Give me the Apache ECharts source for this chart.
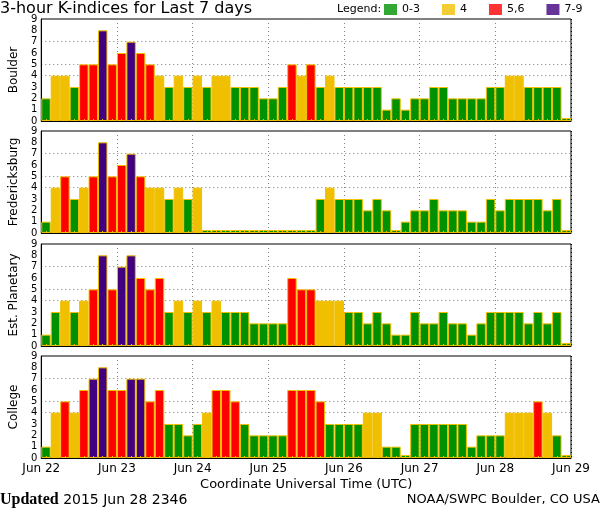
<!DOCTYPE html>
<html><head><meta charset="utf-8">
<script src="https://cdn.jsdelivr.net/npm/echarts@6/dist/echarts.min.js"></script>
<style>html,body{margin:0;padding:0;background:#fff}#c{width:600px;height:510px}</style>
</head><body><div id="c"></div>
<script>
// ---- data ----
const stations = ['Boulder', 'Fredericksburg', 'Est. Planetary', 'College'];
const dayLabels = ['Jun 22', 'Jun 23', 'Jun 24', 'Jun 25', 'Jun 26', 'Jun 27', 'Jun 28', 'Jun 29'];
const hours = ['00', '03', '06', '09', '12', '15', '18', '21'];
const legendNames = ['0-3', '4', '5,6', '7-9'];
const yTicks = [0, 1, 2, 3, 4, 5, 6, 7, 8, 9];

const boulder = [2,4,4,3,5,5,8,5, 6,7,6,5,4,3,4,3, 4,3,4,4,3,3,3,2, 2,3,5,4,5,3,4,3,
                 3,3,3,3,1,2,1,2, 2,3,3,2,2,2,2,3, 3,4,4,3,3,3,3,0];
const fredericksburg = [1,4,5,3,4,5,8,5, 6,7,5,4,4,3,4,3, 4,0,0,0,0,0,0,0, 0,0,0,0,0,3,4,3,
                        3,3,2,3,2,0,1,2, 2,3,2,2,2,1,1,3, 2,3,3,3,3,2,3,0];
const planetary = [1,3,4,3,4,5,8,5, 7,8,6,5,6,3,4,3, 4,3,4,3,3,3,2,2, 2,2,6,5,5,4,4,4,
                   3,3,2,3,2,1,1,3, 2,2,3,2,2,1,2,3, 3,3,3,2,3,2,3,0];
const college = [1,4,5,4,6,7,8,6, 6,7,7,5,6,3,3,2, 3,4,6,6,5,3,2,2, 2,2,6,6,6,5,3,3,
                 3,3,4,4,1,1,0,3, 3,3,3,3,3,1,2,2, 2,4,4,4,5,4,2,0];
const panelData = [boulder, fredericksburg, planetary, college];

// categories: one per 3-hour slot
const categories = [];
dayLabels.slice(0, 7).forEach(d => hours.forEach(h => categories.push(d + ' ' + h)));

// ---- styles ----
const GREEN = '#009100', YELLOW = '#f0c000', RED = '#ff0000', PURPLE = '#400080';
const legendColors = [GREEN, YELLOW, RED, PURPLE];
function kColor(v) { return v <= 3 ? GREEN : v === 4 ? YELLOW : v <= 6 ? RED : PURPLE; }
const GRAY = '#808080', NONE = 'rgba(0,0,0,0)';
const FONT = 'DejaVu Sans';
const tops = [19, 131, 244, 356];

const grid = [], xAxis = [], yAxis = [], series = [];
stations.forEach((name, i) => {
  grid.push({ left: 36, right: 29, top: tops[i], height: 102, show: true,
              borderColor: '#000', borderWidth: 1, backgroundColor: NONE });
  xAxis.push({
    type: 'category', gridIndex: i, data: categories, boundaryGap: true, position: 'bottom', z: 5,
    axisLine: { show: true, lineStyle: { color: '#000', width: 1 } },
    axisTick: { show: true, interval: 0, alignWithLabel: true, inside: true, length: 2,
                lineStyle: { color: YELLOW, width: 1 } },
    axisLabel: { show: false }, splitLine: { show: false }
  });
  xAxis.push({
    type: 'value', gridIndex: i, min: 0, max: 7, interval: 1, position: 'bottom',
    axisLine: { show: false }, axisTick: { show: false },
    axisLabel: { show: i === 3, showMinLabel: true, showMaxLabel: true, margin: 5,
                 formatter: v => dayLabels[v], fontSize: 12, color: '#000', fontFamily: FONT },
    splitLine: { show: true, lineStyle: { color: [NONE, GRAY, GRAY, GRAY, GRAY, GRAY, GRAY, '#000'],
                 type: [1, 3], width: 1 } },
    name: i === 3 ? 'Coordinate Universal Time (UTC)' : '',
    nameLocation: 'middle', nameGap: 20,
    nameTextStyle: { fontSize: 13, color: '#000', fontFamily: FONT }
  });
  yAxis.push({
    type: 'value', gridIndex: i, min: 0, max: 9, interval: 1,
    axisLine: { show: true, lineStyle: { color: '#000', width: 1 } },
    axisTick: { show: false },
    axisLabel: { fontSize: 10, color: '#000', margin: 4, fontFamily: FONT, showMinLabel: true, showMaxLabel: true },
    splitLine: { show: true, lineStyle: {
      color: yTicks.map(t => (t === 4 || t === 5 || t === 7) ? GRAY : NONE), type: [1, 3], width: 1 } },
    name: name, nameLocation: 'middle', nameGap: 20, nameRotate: 90,
    nameTextStyle: { fontSize: 12, color: '#000', fontFamily: FONT }
  });
  series.push({
    type: 'bar', xAxisIndex: 2 * i, yAxisIndex: i, data: panelData[i],
    barCategoryGap: '0%', barMinHeight: 3, silent: true,
    itemStyle: { color: p => kColor(p.value), borderColor: YELLOW, borderWidth: 1 }
  });
});
legendNames.forEach((n, k) => {
  series.push({ type: 'scatter', name: n, xAxisIndex: 0, yAxisIndex: 0, data: [],
                itemStyle: { color: legendColors[k] } });
});

const option = {
  animation: false,
  textStyle: { fontFamily: FONT },
  title: [
    { text: '3-hour K-indices for Last 7 days', left: 0, top: 1, padding: 0,
      textStyle: { fontSize: 16, fontWeight: 'normal', color: '#000', fontFamily: FONT } },
    { text: 'Legend:', left: 337, top: 4, padding: 0,
      textStyle: { fontSize: 11, fontWeight: 'normal', color: '#000', fontFamily: FONT } },
    { text: '{b|Updated} 2015 Jun 28 2346', left: 0, top: 492, padding: 0,
      textStyle: { fontSize: 14, fontWeight: 'normal', color: '#000', fontFamily: FONT,
        rich: { b: { fontSize: 16, fontWeight: 'bold', fontFamily: 'Liberation Serif', color: '#000' } } } },
    { text: 'NOAA/SWPC Boulder, CO USA', right: 0, top: 493, padding: 0,
      textStyle: { fontSize: 13, fontWeight: 'normal', color: '#000', fontFamily: FONT } }
  ],
  legend: {
    left: 384, top: 4, padding: 0, itemWidth: 13, itemHeight: 11, itemGap: 22, icon: 'rect',
    selectedMode: false, data: legendNames,
    textStyle: { fontSize: 11, color: '#000', fontFamily: FONT }
  },
  grid, xAxis, yAxis, series
};
echarts.init(document.getElementById('c')).setOption(option);
</script>
</body></html>
